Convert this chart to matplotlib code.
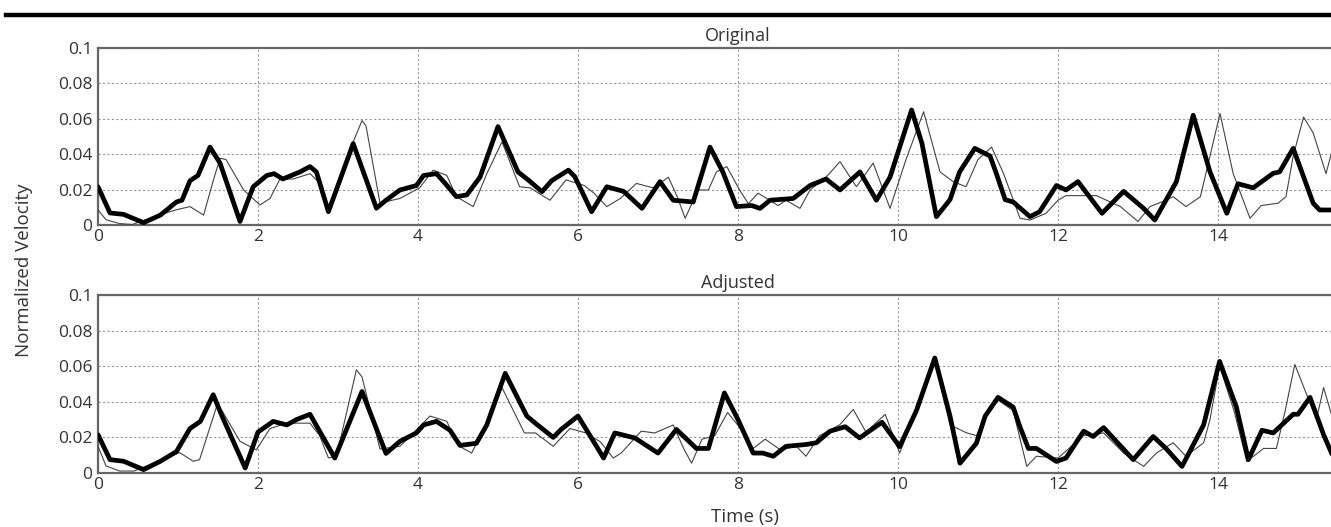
import matplotlib
matplotlib.use("Agg")
import matplotlib.pyplot as plt
from matplotlib.lines import Line2D

plt.rcParams['font.family'] = ['Open Sans', 'DejaVu Sans']

# ---- data (time s, normalized velocity) ----
original_bold = [(0, 0.0216), (0.15, 0.0068), (0.32, 0.006), (0.57, 0.0013), (0.78, 0.0056),
    (0.98, 0.013), (1.05, 0.014), (1.15, 0.025), (1.25, 0.028), (1.4, 0.044), (1.525, 0.035),
    (1.775, 0.002), (1.94, 0.0216), (2.11, 0.028), (2.2, 0.029), (2.31, 0.026), (2.525, 0.030),
    (2.65, 0.033), (2.73, 0.030), (2.88, 0.0075), (3.19, 0.046), (3.48, 0.0095), (3.6, 0.014),
    (3.775, 0.0198), (3.98, 0.0223), (4.07, 0.028), (4.23, 0.029), (4.33, 0.024), (4.48, 0.016),
    (4.61, 0.017), (4.775, 0.027), (5.0, 0.0556), (5.25, 0.030), (5.39, 0.025), (5.55, 0.0188),
    (5.67, 0.025), (5.88, 0.031), (5.96, 0.0273), (6.17, 0.0075), (6.36, 0.0216), (6.57, 0.019),
    (6.8, 0.0094), (7.025, 0.0245), (7.19, 0.014), (7.44, 0.013), (7.65, 0.044), (7.81, 0.030),
    (7.98, 0.0104), (8.17, 0.011), (8.275, 0.0094), (8.4, 0.014), (8.69, 0.015), (8.9, 0.0223),
    (9.1, 0.026), (9.275, 0.0198), (9.525, 0.030), (9.73, 0.014), (9.9, 0.027), (10.17, 0.065),
    (10.3, 0.046), (10.48, 0.0047), (10.65, 0.0143), (10.77, 0.030), (10.96, 0.0433),
    (11.15, 0.039), (11.23, 0.029), (11.34, 0.0143), (11.44, 0.013), (11.65, 0.0047),
    (11.77, 0.0075), (11.98, 0.0223), (12.1, 0.0198), (12.25, 0.0245), (12.55, 0.0066),
    (12.82, 0.019), (13.07, 0.0094), (13.21, 0.0028), (13.48, 0.0245), (13.69, 0.062),
    (13.9, 0.030), (14.11, 0.0066), (14.25, 0.0233), (14.44, 0.021), (14.69, 0.0292),
    (14.77, 0.030), (14.94, 0.0433), (15.19, 0.0123), (15.27, 0.0085), (15.45, 0.0085)]

original_thin = [(0, 0.0085), (0.1, 0.003), (0.27, 0.0008), (0.43, 0.0003), (0.72, 0.005),
    (0.97, 0.0085), (1.15, 0.0104), (1.32, 0.0056), (1.44, 0.025), (1.525, 0.0377), (1.6, 0.037),
    (1.82, 0.0198), (2.025, 0.0113), (2.15, 0.015), (2.275, 0.026), (2.44, 0.026), (2.65, 0.029),
    (2.775, 0.0235), (2.9, 0.0085), (3.1, 0.037), (3.3, 0.059), (3.35, 0.056), (3.525, 0.0124),
    (3.775, 0.015), (4.02, 0.021), (4.19, 0.031), (4.36, 0.028), (4.48, 0.016), (4.69, 0.0104),
    (4.86, 0.029), (5.05, 0.047), (5.27, 0.0216), (5.4, 0.021), (5.65, 0.014), (5.85, 0.0255),
    (6.08, 0.0223), (6.2, 0.018), (6.36, 0.0104), (6.53, 0.015), (6.73, 0.0235), (6.94, 0.021),
    (7.13, 0.027), (7.24, 0.016), (7.34, 0.0038), (7.5, 0.0198), (7.63, 0.0198), (7.73, 0.030),
    (7.86, 0.033), (8.02, 0.0198), (8.13, 0.012), (8.25, 0.018), (8.5, 0.011), (8.6, 0.014),
    (8.775, 0.0094), (8.9, 0.0198), (9.1, 0.027), (9.275, 0.0358), (9.48, 0.0216), (9.69, 0.035),
    (9.9, 0.0094), (10.1, 0.037), (10.32, 0.064), (10.525, 0.030), (10.69, 0.0245),
    (10.85, 0.0216), (11.0, 0.037), (11.17, 0.044), (11.32, 0.029), (11.525, 0.0038),
    (11.65, 0.0028), (11.85, 0.0066), (12.0, 0.014), (12.1, 0.0166), (12.48, 0.0166),
    (12.78, 0.0104), (13.0, 0.002), (13.15, 0.0104), (13.35, 0.014), (13.44, 0.016),
    (13.6, 0.0104), (13.78, 0.016), (13.9, 0.039), (14.025, 0.063), (14.19, 0.029),
    (14.4, 0.0038), (14.54, 0.011), (14.75, 0.0123), (14.85, 0.016), (14.94, 0.039),
    (15.07, 0.061), (15.19, 0.052), (15.35, 0.029), (15.45, 0.046)]

adjusted_bold = [(0, 0.0215), (0.15, 0.0075), (0.32, 0.0066), (0.57, 0.0019), (0.78, 0.0066),
    (0.98, 0.012), (1.15, 0.025), (1.28, 0.029), (1.44, 0.044), (1.55, 0.032), (1.84, 0.0028),
    (2.0, 0.023), (2.19, 0.029), (2.36, 0.027), (2.48, 0.030), (2.65, 0.033), (2.96, 0.0084),
    (3.3, 0.0458), (3.6, 0.011), (3.775, 0.0178), (3.98, 0.0225), (4.07, 0.027), (4.23, 0.029),
    (4.4, 0.024), (4.525, 0.0155), (4.73, 0.0167), (4.86, 0.027), (5.09, 0.056), (5.36, 0.032),
    (5.48, 0.0275), (5.69, 0.020), (5.79, 0.0245), (6.0, 0.032), (6.15, 0.021), (6.32, 0.0084),
    (6.46, 0.0225), (6.71, 0.0197), (7.0, 0.0112), (7.23, 0.0245), (7.48, 0.0138), (7.63, 0.0138),
    (7.83, 0.045), (8.0, 0.030), (8.19, 0.0112), (8.31, 0.0112), (8.44, 0.0094), (8.6, 0.015),
    (8.85, 0.016), (8.98, 0.017), (9.15, 0.0235), (9.34, 0.026), (9.52, 0.0197), (9.8, 0.0285),
    (10.02, 0.0148), (10.23, 0.035), (10.46, 0.0646), (10.65, 0.032), (10.775, 0.0055),
    (10.98, 0.0167), (11.09, 0.032), (11.25, 0.0425), (11.44, 0.037), (11.52, 0.0265),
    (11.63, 0.0138), (11.73, 0.0138), (11.98, 0.0065), (12.1, 0.0084), (12.32, 0.0235),
    (12.44, 0.0205), (12.57, 0.0255), (12.94, 0.0075), (13.19, 0.0205), (13.35, 0.0138),
    (13.55, 0.0037), (13.82, 0.027), (14.02, 0.0627), (14.23, 0.037), (14.38, 0.0075),
    (14.55, 0.024), (14.69, 0.0225), (14.94, 0.033), (15.0, 0.033), (15.15, 0.0425),
    (15.32, 0.0215), (15.45, 0.008)]

adjusted_thin = [(0, 0.015), (0.1, 0.004), (0.27, 0.0011), (0.45, 0.0011), (0.72, 0.006),
    (1.02, 0.0115), (1.19, 0.0066), (1.27, 0.0075), (1.48, 0.037), (1.55, 0.035), (1.775, 0.0178),
    (1.98, 0.013), (2.15, 0.025), (2.36, 0.028), (2.65, 0.028), (2.77, 0.021), (2.88, 0.0085),
    (2.98, 0.009), (3.23, 0.058), (3.3, 0.054), (3.525, 0.0135), (3.775, 0.015), (4.02, 0.026),
    (4.15, 0.032), (4.36, 0.029), (4.5, 0.0155), (4.67, 0.0112), (4.82, 0.0245), (5.05, 0.048),
    (5.33, 0.0225), (5.47, 0.0225), (5.69, 0.015), (5.9, 0.025), (6.1, 0.0225), (6.28, 0.0175),
    (6.44, 0.0084), (6.54, 0.0112), (6.79, 0.0235), (6.96, 0.0225), (7.19, 0.027), (7.32, 0.0138),
    (7.42, 0.0055), (7.55, 0.019), (7.71, 0.021), (7.87, 0.034), (8.04, 0.0245), (8.19, 0.0138),
    (8.34, 0.019), (8.53, 0.013), (8.73, 0.015), (8.85, 0.0094), (9.02, 0.021), (9.27, 0.027),
    (9.44, 0.0357), (9.6, 0.023), (9.84, 0.033), (10.02, 0.0112), (10.23, 0.035), (10.46, 0.063),
    (10.65, 0.027), (10.86, 0.0225), (10.98, 0.021), (11.09, 0.032), (11.25, 0.041),
    (11.44, 0.035), (11.61, 0.0037), (11.73, 0.0094), (12.0, 0.0084), (12.32, 0.021),
    (12.57, 0.0225), (12.82, 0.0112), (13.07, 0.0037), (13.23, 0.0112), (13.44, 0.017),
    (13.6, 0.0094), (13.82, 0.017), (13.9, 0.03), (14.02, 0.060), (14.2, 0.035), (14.36, 0.0065),
    (14.57, 0.0138), (14.73, 0.0138), (14.84, 0.035), (14.96, 0.061), (15.1, 0.045),
    (15.23, 0.030), (15.32, 0.048), (15.45, 0.028)]

panel_titles = ["Original", "Adjusted"]
x_ticks = [0, 2, 4, 6, 8, 10, 12, 14]
y_ticks = [0, 0.02, 0.04, 0.06, 0.08, 0.1]
y_tick_labels = ["0", "0.02", "0.04", "0.06", "0.08", "0.1"]

W, H = 1331, 527
fig = plt.figure(figsize=(W / 100, H / 100), dpi=100)

left = 98 / W
width = 16 * 80 / W
positions = [(left, 1 - 225 / H, width, 177 / H),
             (left, 1 - 473 / H, width, 178 / H)]
series = [(original_bold, original_thin), (adjusted_bold, adjusted_thin)]
text_col = '#333333'

for pos, title, (bold, thin) in zip(positions, panel_titles, series):
    ax = fig.add_axes(pos)
    ax.plot([p[0] for p in thin], [p[1] for p in thin], color='#444444', lw=0.8, zorder=3)
    ax.plot([p[0] for p in bold], [p[1] for p in bold], color='black', lw=3.4,
            solid_joinstyle='round', solid_capstyle='round', zorder=4)
    ax.set_xlim(0, 16)
    ax.set_ylim(0, 0.1)
    ax.set_xticks(x_ticks)
    ax.set_xticklabels([str(t) for t in x_ticks])
    ax.set_yticks(y_ticks)
    ax.set_yticklabels(y_tick_labels)
    ax.tick_params(length=0, labelsize=12.5, colors=text_col, pad=4)
    ax.tick_params(axis='x', pad=3)
    # vertical grid line at 16 lies off-figure; keep grid for visible ticks
    ax.grid(True, color='#999999', lw=0.8, linestyle=(0, (2, 2)))
    for s in ['top', 'bottom', 'left', 'right']:
        ax.spines[s].set_color('#666666')
        ax.spines[s].set_linewidth(1.6)
    ax.set_title(title, fontsize=13, pad=5, color=text_col)

fig.text(24 / W, 1 - 270 / H, "Normalized Velocity", rotation=90, ha='center', va='center',
         fontsize=13.5, color=text_col)
fig.text(745 / W, 1 - 517 / H, "Time (s)", ha='center', va='center', fontsize=13.5,
         color=text_col)

fig.add_artist(Line2D([6 / W, 1.0], [1 - 15 / H, 1 - 15 / H], color='black', lw=3.2,
                      transform=fig.transFigure))

fig.savefig("out.png", dpi=100)
